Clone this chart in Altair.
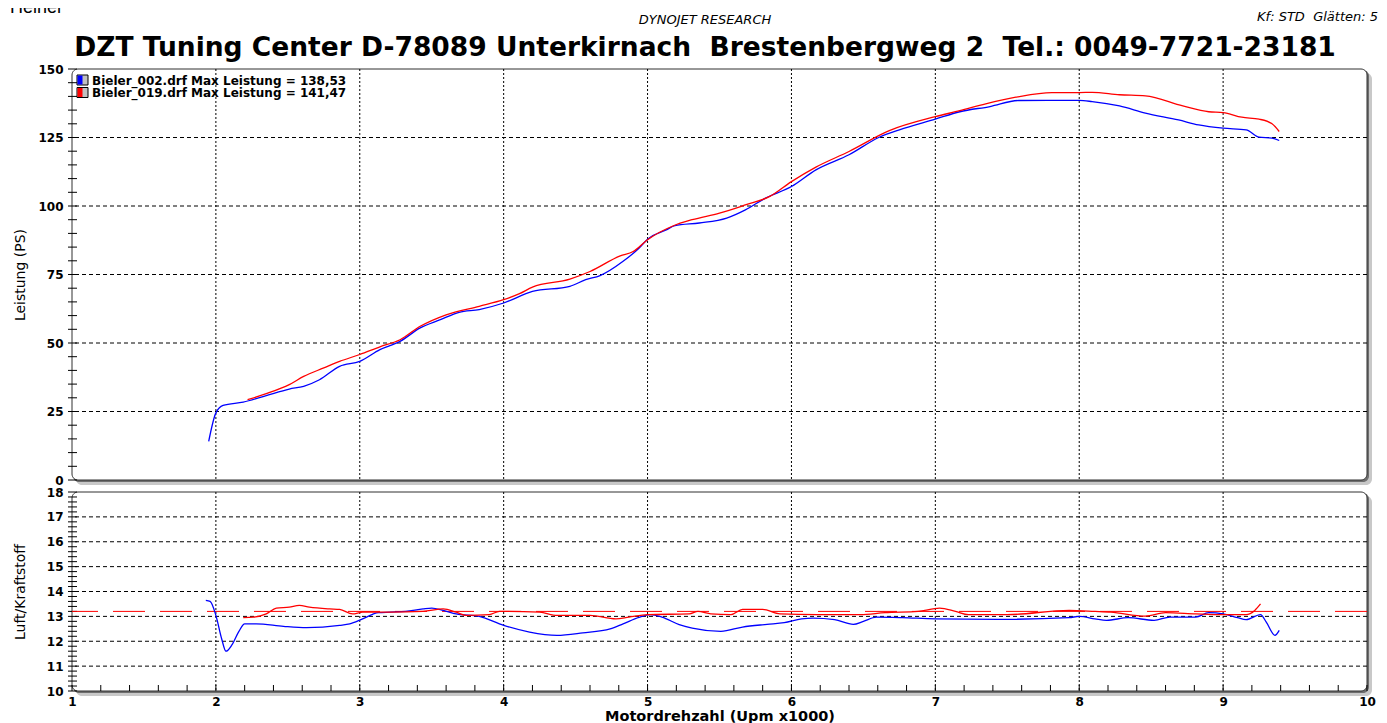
import altair as alt
import pandas as pd

# ---------------- texts ----------------
header_left = "Heiner"
header_center = "DYNOJET RESEARCH"
header_right = "Kf: STD  Glätten: 5"
main_title = "DZT Tuning Center D-78089 Unterkirnach  Brestenbergweg 2  Tel.: 0049-7721-23181"
x_title = "Motordrehzahl (Upm x1000)"
power_title = "Leistung (PS)"
afr_title = "Luft/Kraftstoff"

runs = ["Bieler_002.drf", "Bieler_019.drf"]
max_power = ["138,53", "141,47"]
run_colors = ["#0000ff", "#ff0000"]

# ---------------- power (PS) ----------------
p002_rpm = [1.95, 2.00, 2.05, 2.19, 2.35, 2.51, 2.61, 2.72, 2.86, 3.00, 3.14, 3.28, 3.42, 3.56,
            3.69, 3.83, 4.00, 4.20, 4.46, 4.57, 4.67, 4.83, 4.94, 5.00, 5.13, 5.19, 5.36, 5.55,
            5.68, 5.82, 6.00, 6.17, 6.40, 6.61, 6.75, 7.00, 7.17, 7.38, 7.58, 8.00, 8.09, 8.28,
            8.46, 8.69, 8.83, 9.00, 9.16, 9.25, 9.34, 9.39]
p002_ps = [14.1, 24.5, 27.2, 28.4, 30.8, 33.2, 34.2, 36.6, 41.5, 43.3, 47.6, 50.6, 55.5, 58.5,
           61.2, 62.2, 64.6, 68.8, 70.7, 73.1, 74.6, 79.8, 84.6, 87.9, 91.3, 92.8, 93.8, 95.6,
           98.6, 102.9, 107.1, 113.2, 118.7, 125.1, 127.8, 131.7, 134.4, 136.3, 138.5, 138.53, 138.1, 136.5,
           133.9, 131.4, 129.6, 128.4, 127.8, 125.1, 124.8, 123.9]

p019_rpm = [2.22, 2.35, 2.51, 2.61, 2.75, 2.86, 3.00, 3.14, 3.28, 3.42, 3.60, 3.83, 4.00, 4.11,
            4.20, 4.46, 4.60, 4.81, 4.90, 5.00, 5.18, 5.31, 5.50, 5.68, 5.85, 6.00, 6.17, 6.40,
            6.68, 7.00, 7.17, 7.35, 7.56, 7.81, 8.00, 8.09, 8.28, 8.46, 8.72, 8.90, 9.00, 9.13,
            9.25, 9.34, 9.39]
p019_ps = [29.3, 31.5, 34.8, 37.8, 40.9, 43.3, 45.8, 48.6, 51.2, 56.1, 60.3, 63.4, 65.8, 68.0,
           70.4, 73.3, 76.1, 81.8, 83.4, 87.7, 92.8, 95.0, 97.4, 100.4, 103.5, 108.9, 114.2, 119.9,
           127.5, 132.6, 134.8, 137.3, 139.7, 141.4, 141.4, 141.47, 140.6, 140.2, 136.5, 134.4, 134.1, 132.4,
           131.7, 130.0, 127.2]

# ---------------- air / fuel ----------------
a002_rpm = [1.93, 1.96, 2.00, 2.04, 2.07, 2.11, 2.16, 2.20, 2.28, 2.47, 2.63, 2.86, 2.93, 3.02,
            3.13, 3.21, 3.32, 3.44, 3.50, 3.58, 3.67, 3.83, 4.00, 4.18, 4.37, 4.55, 4.74, 4.83,
            4.94, 5.02, 5.10, 5.22, 5.31, 5.51, 5.66, 5.83, 5.95, 6.07, 6.15, 6.30, 6.43, 6.50,
            6.59, 6.77, 7.00, 7.44, 7.93, 8.00, 8.11, 8.19, 8.34, 8.52, 8.63, 8.81, 8.90, 9.00,
            9.10, 9.16, 9.26, 9.30, 9.36, 9.39]
a002_afr = [13.64, 13.6, 13.04, 12.1, 11.6, 11.84, 12.4, 12.7, 12.7, 12.6, 12.55, 12.64, 12.7, 12.9,
            13.15, 13.17, 13.2, 13.3, 13.33, 13.24, 13.1, 13.0, 12.64, 12.37, 12.24, 12.34, 12.5, 12.7,
            12.96, 13.07, 12.97, 12.67, 12.53, 12.4, 12.57, 12.68, 12.75, 12.9, 12.93, 12.87, 12.68, 12.8,
            12.97, 12.95, 12.9, 12.88, 12.95, 13.0, 12.9, 12.84, 12.95, 12.84, 12.97, 12.97, 13.15, 13.1,
            12.95, 12.87, 13.07, 12.77, 12.24, 12.44]

a019_rpm = [2.19, 2.26, 2.35, 2.42, 2.51, 2.58, 2.65, 2.79, 2.86, 2.95, 3.02, 3.21, 3.44, 3.58,
            3.67, 3.74, 3.90, 3.97, 4.25, 4.37, 4.60, 4.78, 4.87, 5.00, 5.29, 5.35, 5.44, 5.58,
            5.66, 5.80, 5.92, 6.18, 6.48, 6.65, 6.88, 7.03, 7.14, 7.23, 7.50, 7.93, 8.11, 8.22,
            8.46, 8.60, 8.81, 9.00, 9.16, 9.22, 9.26]
a019_afr = [12.95, 12.97, 13.1, 13.33, 13.37, 13.44, 13.37, 13.3, 13.28, 13.1, 13.17, 13.17, 13.2, 13.3,
            13.17, 13.04, 13.07, 13.2, 13.17, 13.04, 13.04, 12.9, 12.97, 13.07, 13.1, 13.2, 13.1, 13.07,
            13.28, 13.28, 13.1, 13.07, 13.07, 13.15, 13.2, 13.33, 13.2, 13.07, 13.07, 13.24, 13.2, 13.17,
            13.01, 13.15, 13.1, 13.07, 13.07, 13.24, 13.5]

target_afr = [13.2]

# ---------------- axes / grid values ----------------
x_labels = [1, 2, 3, 4, 5, 6, 7, 8, 9, 10]
x_grid = [2, 3, 4, 5, 6, 7, 8, 9]
power_labels = [0, 25, 50, 75, 100, 125, 150]
power_grid = [25, 50, 75, 100, 125]
afr_labels = [10, 11, 12, 13, 14, 15, 16, 17, 18]
afr_grid = [11, 12, 13, 14, 15, 16, 17]
x_minor = [round(1 + 0.2 * i, 1) for i in range(46)]
power_minor = list(range(0, 151, 5))
afr_minor = [round(10 + 0.2 * i, 1) for i in range(41)]

W = 1295
H_TOP = 411
H_BOT = 199
H_HEAD = 65
FONT = "DejaVu Sans"


def nb(s):
    return s.replace("  ", " \u00a0")


one = pd.DataFrame({"k": [0]})


# ---------------- header ----------------
def htext(txt, x, y, **kw):
    return alt.Chart(pd.DataFrame({"t": [txt]})).mark_text(**kw).encode(
        text="t:N", x=alt.value(x), y=alt.value(y))


header = alt.layer(
    htext(header_left, -62, 15, align="left", baseline="alphabetic", font="Liberation Sans",
          fontSize=18, color="#000"),
    htext(header_center, 633, 21.5, align="center", baseline="middle", font=FONT,
          fontStyle="italic", fontSize=13, color="#000"),
    htext(nb(header_right), 1306, 19, align="right", baseline="middle", font=FONT,
          fontStyle="italic", fontSize=13, color="#000"),
    htext(nb(main_title), 633, 58, align="center", baseline="alphabetic", font=FONT,
          fontWeight="bold", fontSize=26.5, color="#000"),
).properties(width=W, height=H_HEAD)


# ---------------- frame helpers ----------------
def frame_layers(h):
    shadow = alt.Chart(one).mark_rect(fill="#c8c8c8", cornerRadius=6).encode(
        x=alt.value(4), x2=alt.value(W + 5), y=alt.value(4), y2=alt.value(h + 5))
    edge = alt.Chart(one).mark_rect(fill="#6e6e6e", cornerRadius=6).encode(
        x=alt.value(1), x2=alt.value(W + 2), y=alt.value(1), y2=alt.value(h + 2))
    face = alt.Chart(one).mark_rect(fill="white", stroke="#303030", strokeWidth=1,
                                    cornerRadius=6).encode(
        x=alt.value(0), x2=alt.value(W), y=alt.value(0), y2=alt.value(h))
    return [shadow, edge, face]


xscale = alt.Scale(domain=[1, 10], nice=False, zero=False)
pscale = alt.Scale(domain=[0, 150], nice=False)
ascale = alt.Scale(domain=[10, 18], nice=False, zero=False)
cscale = alt.Scale(domain=runs, range=run_colors)

label_kw = dict(labelFont=FONT, labelFontWeight="bold", labelFontSize=12, labelColor="#000",
                ticks=False, domain=False, grid=False, labelOverlap=False, zindex=1)

p_axis = alt.Axis(values=power_labels, format="d", labelPadding=9, title=power_title,
                  titleFont=FONT, titleFontSize=14, titleFontWeight="normal", titleColor="#000",
                  titleX=-52, titleBaseline="middle", **label_kw)
a_axis = alt.Axis(values=afr_labels, format="d", labelPadding=9, title=afr_title,
                  titleFont=FONT, titleFontSize=14, titleFontWeight="normal", titleColor="#000",
                  titleX=-52, titleBaseline="middle", **label_kw)
x_axis = alt.Axis(values=x_labels, format="d", labelPadding=5, labelFlush=False,
                  title=x_title, titleFont=FONT, titleFontSize=14.5, titleFontWeight="bold",
                  titleColor="#000", titlePadding=2, **label_kw)

# ---------------- top panel ----------------
power_df = pd.concat([
    pd.DataFrame({"rpm": p002_rpm, "ps": p002_ps, "run": runs[0]}),
    pd.DataFrame({"rpm": p019_rpm, "ps": p019_ps, "run": runs[1]}),
])

vgrid_top = alt.Chart(pd.DataFrame({"rpm": x_grid})).mark_rule(
    color="#000", strokeDash=[2, 2], strokeWidth=1).encode(
    x=alt.X("rpm:Q", scale=xscale, axis=None))
hgrid_top = alt.Chart(pd.DataFrame({"ps": power_grid})).mark_rule(
    color="#000", strokeDash=[4, 3], strokeWidth=1).encode(
    y=alt.Y("ps:Q", scale=pscale, axis=p_axis))
yticks_top = alt.Chart(pd.DataFrame({"ps": power_minor})).mark_rule(
    color="#000", strokeWidth=1).encode(
    y=alt.Y("ps:Q", scale=pscale, axis=p_axis), x=alt.value(-4), x2=alt.value(5))
power_lines = alt.Chart(power_df).mark_line(strokeWidth=1.3, interpolate="monotone").encode(
    x=alt.X("rpm:Q", scale=xscale, axis=None),
    y=alt.Y("ps:Q", scale=pscale, axis=p_axis),
    color=alt.Color("run:N", scale=cscale, legend=None),
    detail="run:N",
)

legend_layers = []
for i, (r, mp, c) in enumerate(zip(runs, max_power, run_colors)):
    y0 = 6 + 12.5 * i
    legend_layers.append(alt.Chart(one).mark_rect(fill="#c0c0c0", stroke="#000", strokeWidth=1).encode(
        x=alt.value(5), x2=alt.value(16), y=alt.value(y0), y2=alt.value(y0 + 10)))
    legend_layers.append(alt.Chart(one).mark_rect(fill=c).encode(
        x=alt.value(5.5), x2=alt.value(10.5), y=alt.value(y0 + 0.5), y2=alt.value(y0 + 9.5)))
    legend_layers.append(alt.Chart(pd.DataFrame({"t": [f"{r} Max Leistung = {mp}"]})).mark_text(
        align="left", baseline="middle", font=FONT, fontWeight="bold", fontSize=12, color="#000").encode(
        text="t:N", x=alt.value(20), y=alt.value(y0 + 5.5)))

top = alt.layer(*frame_layers(H_TOP), vgrid_top, hgrid_top, yticks_top, power_lines,
                *legend_layers).properties(width=W, height=H_TOP)

# ---------------- bottom panel ----------------
afr_df = pd.concat([
    pd.DataFrame({"rpm": a002_rpm, "afr": a002_afr, "run": runs[0]}),
    pd.DataFrame({"rpm": a019_rpm, "afr": a019_afr, "run": runs[1]}),
])

vgrid_bot = alt.Chart(pd.DataFrame({"rpm": x_grid})).mark_rule(
    color="#000", strokeDash=[2, 2], strokeWidth=1).encode(
    x=alt.X("rpm:Q", scale=xscale, axis=x_axis))
xticks_bot = alt.Chart(pd.DataFrame({"rpm": x_minor})).mark_rule(
    color="#000", strokeWidth=1).encode(
    x=alt.X("rpm:Q", scale=xscale, axis=x_axis), y=alt.value(H_BOT - 6), y2=alt.value(H_BOT))
hgrid_bot = alt.Chart(pd.DataFrame({"afr": afr_grid})).mark_rule(
    color="#000", strokeDash=[4, 3], strokeWidth=1).encode(
    y=alt.Y("afr:Q", scale=ascale, axis=a_axis))
yticks_bot = alt.Chart(pd.DataFrame({"afr": afr_minor})).mark_rule(
    color="#000", strokeWidth=1).encode(
    y=alt.Y("afr:Q", scale=ascale, axis=a_axis), x=alt.value(-4), x2=alt.value(5))
target = alt.Chart(pd.DataFrame({"afr": target_afr})).mark_rule(
    color="#ff0000", strokeDash=[32, 15], strokeWidth=1).encode(
    y=alt.Y("afr:Q", scale=ascale, axis=a_axis))
afr_lines = alt.Chart(afr_df).mark_line(strokeWidth=1.3, interpolate="monotone").encode(
    x=alt.X("rpm:Q", scale=xscale, axis=x_axis),
    y=alt.Y("afr:Q", scale=ascale, axis=a_axis),
    color=alt.Color("run:N", scale=cscale, legend=None),
    detail="run:N",
)

bottom = alt.layer(*frame_layers(H_BOT), vgrid_bot, hgrid_bot, xticks_bot, yticks_bot, target,
                   afr_lines).properties(width=W, height=H_BOT)

chart = alt.vconcat(header, top, bottom, spacing=0).properties(
    padding={"left": 2, "top": -10, "right": 0, "bottom": 0},
    background="white",
).configure_view(stroke=None)

chart.save("out.html", embed_options={"renderer": "svg", "actions": False})
